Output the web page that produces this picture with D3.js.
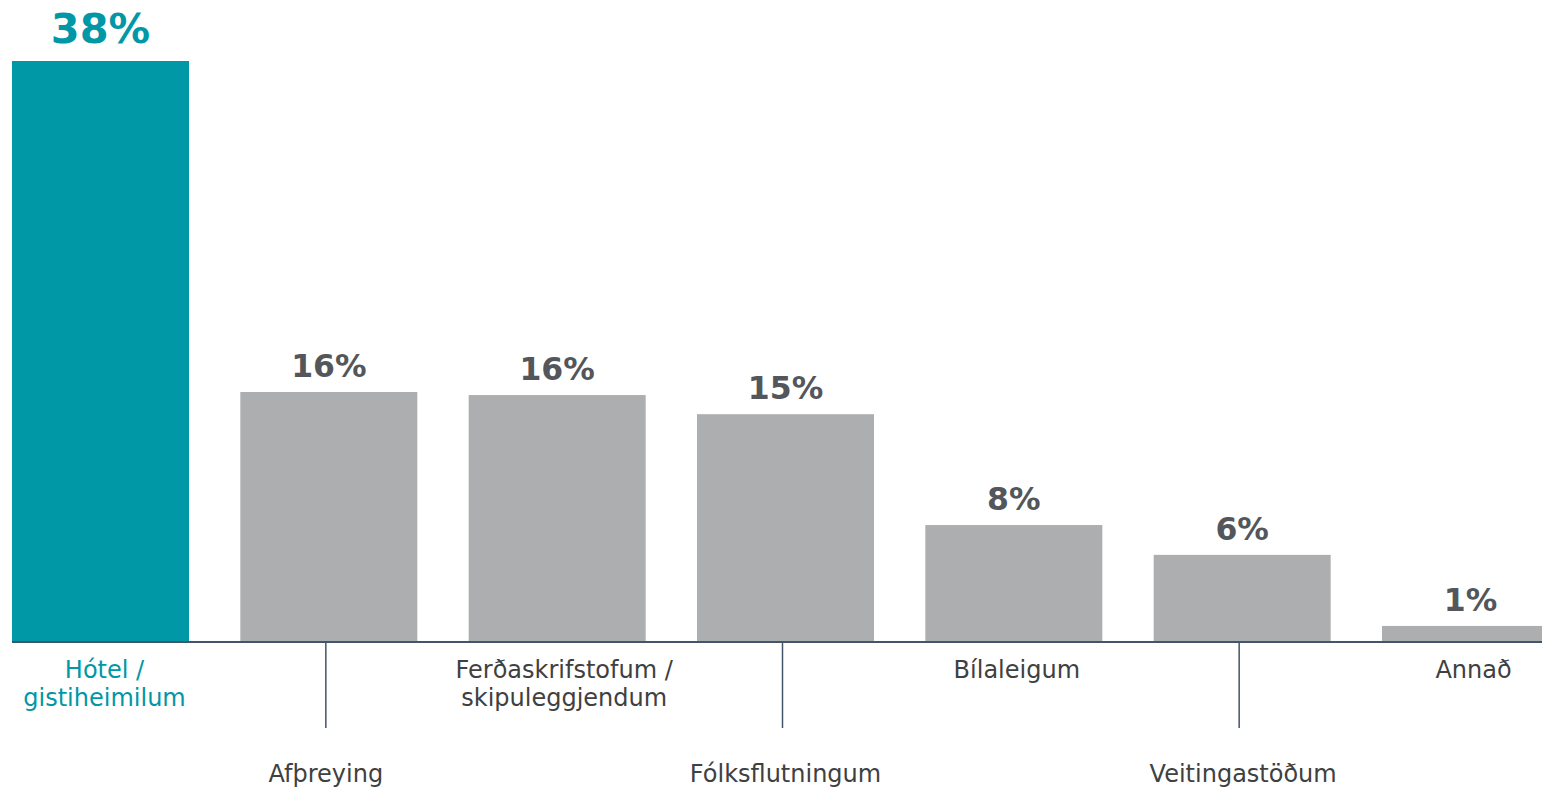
<!DOCTYPE html>
<html>
<head>
<meta charset="utf-8">
<script src="https://cdn.jsdelivr.net/npm/d3@7"></script>
<style>
  body { margin: 0; background: #fff; }
  svg { display: block; font-family: "DejaVu Sans", Verdana, sans-serif; }
</style>
</head>
<body>
<svg id="chart" width="1542" height="787"></svg>
<script>
// data
var categories = ['Hótel / gistiheimilum', 'Afþreying', 'Ferðaskrifstofum / skipuleggjendum',
  'Fólksflutningum', 'Bílaleigum', 'Veitingastöðum', 'Annað'];
var labelLines = [['Hótel /', 'gistiheimilum'], ['Afþreying'], ['Ferðaskrifstofum /', 'skipuleggjendum'],
  ['Fólksflutningum'], ['Bílaleigum'], ['Veitingastöðum'], ['Annað']];
var values = [38, 16.35, 16.15, 14.9, 7.65, 5.7, 1.05];
var valueLabels = ['38%', '16%', '16%', '15%', '8%', '6%', '1%'];

var teal = '#0097A7';
var grey = '#ADAEB0';
var axisColor = '#44546A';

var svg = d3.select('#chart');
var baseY = 642;

var x = d3.scaleBand()
  .domain(categories)
  .range([12, 1559])
  .paddingInner(0.2248)
  .paddingOuter(0);

var y = d3.scaleLinear()
  .domain([0, 38])
  .range([baseY, 61]);

var bars = svg.append('g').attr('class', 'bars');

bars.selectAll('rect')
  .data(values)
  .enter()
  .append('rect')
    .attr('x', function(d, i) { return x(categories[i]); })
    .attr('y', function(d) { return y(d); })
    .attr('width', x.bandwidth())
    .attr('height', function(d) { return baseY - y(d); })
    .attr('fill', function(d, i) { return i === 0 ? teal : grey; });

// value labels
svg.append('g')
  .selectAll('text')
  .data(values)
  .enter()
  .append('text')
    .attr('x', function(d, i) { return x(categories[i]) + x.bandwidth() / 2; })
    .attr('y', function(d, i) { return y(d) - (i === 0 ? 18 : 15); })
    .attr('text-anchor', 'middle')
    .attr('font-weight', 'bold')
    .attr('font-size', function(d, i) { return i === 0 ? '41.5px' : '31.5px'; })
    .attr('fill', function(d, i) { return i === 0 ? teal : '#53565A'; })
    .text(function(d, i) { return valueLabels[i]; });

// axis line
svg.append('line')
  .attr('x1', 12)
  .attr('x2', 1542)
  .attr('y1', baseY)
  .attr('y2', baseY)
  .attr('stroke', axisColor)
  .attr('stroke-width', 2);

// long ticks for the staggered labels
svg.append('g')
  .selectAll('line')
  .data(categories.filter(function(d, i) { return i % 2 === 1; }))
  .enter()
  .append('line')
    .attr('x1', function(d) { return x(d) + x.bandwidth() / 2 - 3; })
    .attr('x2', function(d) { return x(d) + x.bandwidth() / 2 - 3; })
    .attr('y1', baseY)
    .attr('y2', 728)
    .attr('stroke', axisColor)
    .attr('stroke-width', 1.5);

// category labels
var shift = [4, -3, 7, 0, 3, 1, 3];
var catLabels = svg.append('g')
  .selectAll('text')
  .data(categories)
  .enter()
  .append('text')
    .attr('text-anchor', 'middle')
    .attr('font-size', '24px')
    .attr('fill', function(d, i) { return i === 0 ? teal : '#404040'; })
    .attr('transform', function(d, i) {
      var cx = x(d) + x.bandwidth() / 2 + shift[i];
      var cy = i % 2 === 0 ? 678 : 782;
      return 'translate(' + cx + ',' + cy + ')';
    });

catLabels.selectAll('tspan')
  .data(function(d, i) { return labelLines[i]; })
  .enter()
  .append('tspan')
    .attr('x', 0)
    .attr('dy', function(d, j) { return j === 0 ? 0 : 28; })
    .text(function(d) { return d; });
</script>
</body>
</html>
